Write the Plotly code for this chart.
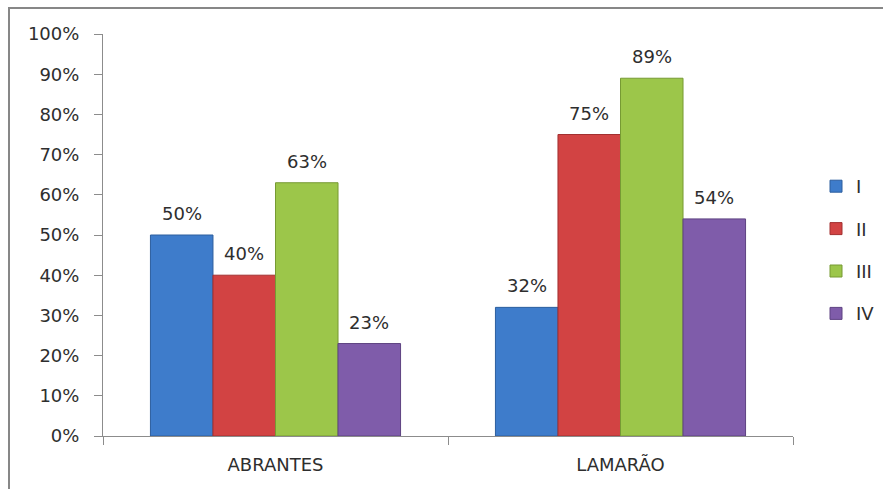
import plotly.graph_objects as go

# Sites along the category axis
sites = ["ABRANTES", "LAMARÃO"]

# Share per class at each site (fractions)
series_names = ["I", "II", "III", "IV"]
vals_i = [0.50, 0.32]
vals_ii = [0.40, 0.75]
vals_iii = [0.63, 0.89]
vals_iv = [0.23, 0.54]

# y-axis ticks
y_ticks = [0.0, 0.1, 0.2, 0.3, 0.4, 0.5, 0.6, 0.7, 0.8, 0.9, 1.0]
y_tick_labels = ["0%", "10%", "20%", "30%", "40%", "50%", "60%", "70%", "80%", "90%", "100%"]

all_vals = [vals_i, vals_ii, vals_iii, vals_iv]
fills = ["#3E7CCB", "#D24343", "#9CC64A", "#7F5CAA"]
edges = ["#2C5E9E", "#A23030", "#769A33", "#5E4382"]

FONT = "DejaVu Sans"
FS = 18
TXT = "#2E2E2E"
AXIS = "#8C8C8C"

W, H = 883, 489
L, R, T, B = 103, 90, 34, 53
plot_w = W - L - R
plot_h = H - T - B

bargap = 0.275
n = len(series_names)
bw = (1 - bargap) / n

fig = go.Figure()
annotations = []
for k, (name, vals) in enumerate(zip(series_names, all_vals)):
    fig.add_trace(go.Bar(
        x=sites, y=vals, name=name,
        marker=dict(color=fills[k], line=dict(color=edges[k], width=1)),
        legendgroup=name,
        hoverinfo="skip",
    ))
    offset = -(1 - bargap) / 2 + bw * (k + 0.5)
    for j, v in enumerate(vals):
        annotations.append(dict(
            x=j + offset, y=v, xref="x", yref="y",
            text=f"{round(v * 100)}%", showarrow=False,
            yanchor="bottom", yshift=9,
            font=dict(family=FONT, size=FS, color=TXT),
        ))

# outer chart frame (left and top edges visible)
fig.add_shape(
    type="rect", xref="paper", yref="paper",
    x0=(9 - L) / plot_w, x1=(W + 40 - L) / plot_w,
    y0=-(H + 40 - (H - B)) / plot_h, y1=((H - B) - 8) / plot_h,
    line=dict(color="#878787", width=2), fillcolor="rgba(0,0,0,0)",
    layer="below",
)

fig.update_layout(
    width=W, height=H,
    margin=dict(l=L, r=R, t=T, b=B, pad=0, autoexpand=False),
    paper_bgcolor="white", plot_bgcolor="white",
    barmode="group", bargap=bargap, bargroupgap=0,
    font=dict(family=FONT, size=FS, color=TXT),
    showlegend=True,
    legend=dict(
        x=(816 - L) / plot_w, xanchor="left",
        y=((H - B) - 250) / plot_h, yanchor="middle",
        font=dict(family=FONT, size=FS, color=TXT),
        tracegroupgap=16, itemwidth=30,
        bgcolor="rgba(0,0,0,0)",
    ),
    annotations=annotations,
)

fig.update_xaxes(
    type="category", showline=True, linecolor=AXIS, linewidth=1,
    ticks="outside", ticklen=8, tickcolor=AXIS, tickson="boundaries",
    ticklabelstandoff=12,
    showgrid=False, zeroline=False,
    tickfont=dict(family=FONT, size=FS, color=TXT),
)
fig.update_yaxes(
    range=[0, 1], tickvals=y_ticks, ticktext=y_tick_labels,
    showline=True, linecolor=AXIS, linewidth=1,
    ticks="outside", ticklen=8, tickcolor=AXIS,
    ticklabelstandoff=11,
    showgrid=False, zeroline=False,
    tickfont=dict(family=FONT, size=FS, color=TXT),
)

fig.write_html("out.html")
